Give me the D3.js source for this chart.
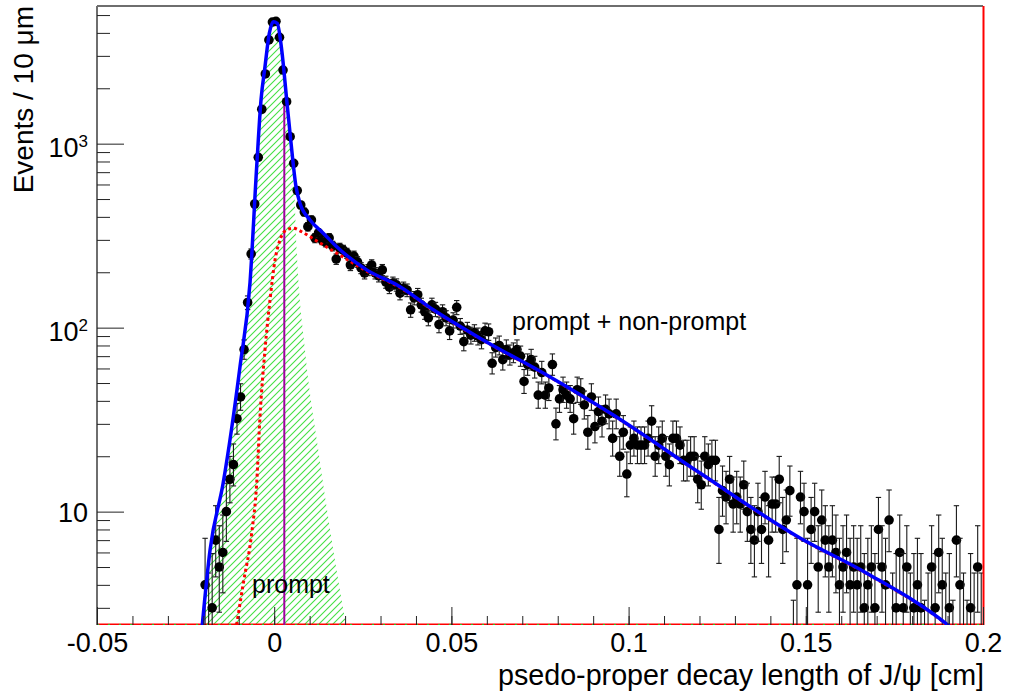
<!DOCTYPE html>
<html>
<head>
<meta charset="utf-8">
<script src="https://cdn.jsdelivr.net/npm/d3@7"></script>
<style>
  body { margin: 0; background: #fff; }
  text { font-family: "Liberation Sans", Arial, Helvetica, sans-serif; fill: #000; }
</style>
</head>
<body>
<div id="chart"></div>
<script>
// histogram, 10 um bins; first bin starts at -0.020 cm
var binWidth = 0.001;
var firstBinLow = -0.020;
var counts = [
  4, 2, 3, 7, 5, 6, 10, 15, 18, 32,
  42, 76, 137, 252, 470, 843, 1538, 2393, 3664, 4580,
  4620, 3785, 2512, 1690, 1091, 782, 556, 464, 425, 354,
  385, 307, 327, 300, 292, 307, 278, 236, 271, 264,
  254, 219, 245, 228, 211, 198, 206, 219, 198, 191,
  206, 177, 166, 175, 171, 154, 164, 160, 125, 145,
  151, 133, 122, 113, 133, 126, 104, 122, 113, 96,
  110, 129, 102, 84, 97, 91, 94, 90, 86, 96,
  95, 64, 78, 80, 67, 76, 71, 73, 76, 70,
  51, 63, 67, 61, 43, 57, 43, 47, 63, 30,
  41, 46, 43, 41, 32, 46, 45, 38, 27, 42,
  29, 35, 31, 36, 34, 25, 34, 20, 27, 16,
  23, 25, 23, 23, 23, 25, 31, 20, 23, 25,
  20, 18, 25, 25, 23, 19, 19, 20, 20, 15,
  14, 20, 18, 19, 19, 8, 13, 12, 15, 11,
  12, 11, 14, 10, 8, 7, 10, 8, 12, 7,
  11, 11, 15, 8, 9, 13, 1, 4, 12, 10,
  4, 8, 10, 5, 9, 7, 5, 7, 6, 4,
  5, 6, 4, 5, 4, 5, 3, 4, 5, 3,
  8, 5, 4, 9, 2, 3, 6, 3, 5, 2,
  3, 4, 3, 1, 2, 5, 3, 6, 4, 2,
  3, 1, 7, 4, 2, 1, 3, 2, 5, 2
];

// fit curves
var totalX = [-0.0205, -0.0181, -0.0144, -0.00965, -0.00683, -0.00494, -0.00372, -0.0026, -0.00138, -0.00025,
  0.00087, 0.00212, 0.00353, 0.00466, 0.00615, 0.00728, 0.0101, 0.01385, 0.01764, 0.0261,
  0.0355, 0.0449, 0.05807, 0.07689, 0.09568, 0.12015, 0.14837, 0.16718, 0.18976, 0.1915];
var totalY = [2.2, 6.19, 14.3, 61.4, 175, 750, 1728, 2620, 3981, 4603,
  4510, 3230, 1728, 1047, 584, 474, 385, 326, 275, 206,
  167, 125, 87.6, 55.3, 33.5, 16.2, 7.19, 4.63, 2.45, 2.3];

var nonPromptX = [-0.0106, -0.00872, -0.00635, -0.00494, -0.00401, -0.0026, -0.00119, 0.00023, 0.00164, 0.00353,
  0.00539, 0.00776, 0.01151, 0.01764, 0.0261, 0.0355, 0.0449, 0.05807, 0.07689, 0.09568,
  0.12015, 0.14837, 0.16718, 0.18976, 0.1915];
var nonPromptY = [2.42, 4.08, 7.63, 14.3, 32.8, 75.7, 141, 233, 300, 340,
  347, 332, 300, 254, 203, 165, 124, 87, 55, 33.3,
  16.1, 7.15, 4.6, 2.43, 2.28];

var promptX = [-0.0205, -0.0181, -0.0144, -0.00965, -0.00683, -0.00494, -0.00372, -0.0026, -0.00138, -0.00025,
  0.00087, 0.00212, 0.00353, 0.00466, 0.00559, 0.00635, 0.00869, 0.01244, 0.01668, 0.02026];
var promptY = [2.2, 6.0, 13.8, 58, 163, 720, 1690, 2570, 3850, 4380,
  4280, 3000, 1450, 850, 600, 264, 75.7, 21.6, 6.19, 2.42];

var markerX = 0.00285, markerTop = 1690;

var xTicks = [-0.05, 0, 0.05, 0.1, 0.15, 0.2];
var yMajor = [10, 100, 1000];
var yLabelExp = ["", "2", "3"];

var width = 1009, height = 696;
var margin = {top: 6, right: 26, bottom: 71, left: 97};
var plotW = width - margin.left - margin.right;
var plotH = height - margin.top - margin.bottom;

var x = d3.scaleLinear().domain([-0.05, 0.2]).range([0, plotW]);
var y = d3.scaleLog().domain([2.42, 5600]).range([plotH, 0]);

var yMinor = [];
[1, 10, 100, 1000].forEach(function(d) {
  for (var m = 2; m <= 9; m++) {
    var v = d * m;
    if (v >= 2.42 && v <= 5600) yMinor.push(v);
  }
});
var xMinor = d3.range(-0.05, 0.2001, 0.01);

// 68% central poisson interval, like RooFit draws for data
function poissonInterval(n) {
  if (n > 80) return [n - Math.sqrt(n), n + Math.sqrt(n)];
  var a = 0.158655;
  function cdf(k, mu) {
    var t = Math.exp(-mu), s = t;
    for (var i = 1; i <= k; i++) { t *= mu / i; s += t; }
    return s;
  }
  function solve(k, target) {
    var lo = 0, hi = n + 10 * Math.sqrt(n + 1) + 10;
    for (var i = 0; i < 60; i++) {
      var m = (lo + hi) / 2;
      if (cdf(k, m) > target) lo = m; else hi = m;
    }
    return (lo + hi) / 2;
  }
  var up = solve(n, a);
  var low = n === 0 ? 0 : solve(n - 1, 1 - a);
  return [low, up];
}

var svg = d3.select("#chart").append("svg")
  .attr("width", width)
  .attr("height", height)
  .style("background", "#fff");

var defs = svg.append("defs");
defs.append("clipPath").attr("id", "plotclip")
  .append("rect").attr("x", 0).attr("y", 0).attr("width", plotW).attr("height", plotH);

var hatch = defs.append("pattern")
  .attr("id", "hatch")
  .attr("patternUnits", "userSpaceOnUse")
  .attr("width", 7).attr("height", 7);
hatch.append("path")
  .attr("d", "M0,7 L7,0 M-1,1 L1,-1 M6,8 L8,6")
  .attr("stroke", "#44e044")
  .attr("stroke-width", 1.1);

var g = svg.append("g")
  .attr("transform", "translate(" + margin.left + "," + margin.top + ")");

var plot = g.append("g").attr("clip-path", "url(#plotclip)");

// prompt component (hatched)
var promptPts = promptX.map(function(d, i) { return [d, promptY[i]]; });
plot.append("path")
  .datum(promptPts)
  .attr("fill", "url(#hatch)")
  .attr("stroke", "none")
  .attr("d", d3.area()
    .x(function(d) { return x(d[0]); })
    .y0(plotH)
    .y1(function(d) { return y(d[1]); })
    .curve(d3.curveMonotoneX));

// bottom edge of the curves
plot.append("line")
  .attr("x1", 0).attr("x2", plotW).attr("y1", plotH - 0.5).attr("y2", plotH - 0.5)
  .attr("stroke", "#ff0000").attr("stroke-width", 2);
plot.append("line")
  .attr("x1", 0).attr("x2", plotW).attr("y1", plotH - 0.5).attr("y2", plotH - 0.5)
  .attr("stroke", "#22cc22").attr("stroke-width", 1).attr("stroke-dasharray", "2,9");

// vertical line in the prompt peak
plot.append("line")
  .attr("x1", x(markerX)).attr("x2", x(markerX))
  .attr("y1", y(markerTop)).attr("y2", plotH)
  .attr("stroke", "#a000a0").attr("stroke-width", 2);

// data points with errors
var bins = counts.map(function(n, i) {
  var iv = poissonInterval(n);
  return {x: firstBinLow + (i + 0.5) * binWidth, n: n, lo: iv[0], hi: iv[1]};
});
function yc(v) { return v > 0 ? y(v) : plotH + 50; }

var pts = plot.append("g").selectAll("g")
  .data(bins)
  .enter().append("g");
pts.append("line")
  .attr("x1", function(d) { return x(d.x); })
  .attr("x2", function(d) { return x(d.x); })
  .attr("y1", function(d) { return yc(d.lo); })
  .attr("y2", function(d) { return yc(d.hi); })
  .attr("stroke", "#1a1a1a").attr("stroke-width", 1.1);
pts.append("line")
  .attr("x1", function(d) { return x(d.x) - 2.7; })
  .attr("x2", function(d) { return x(d.x) + 2.7; })
  .attr("y1", function(d) { return yc(d.hi); })
  .attr("y2", function(d) { return yc(d.hi); })
  .attr("stroke", "#1a1a1a").attr("stroke-width", 1.1);
pts.append("line")
  .attr("x1", function(d) { return x(d.x) - 2.7; })
  .attr("x2", function(d) { return x(d.x) + 2.7; })
  .attr("y1", function(d) { return yc(d.lo); })
  .attr("y2", function(d) { return yc(d.lo); })
  .attr("stroke", "#1a1a1a").attr("stroke-width", 1.1);
pts.append("circle")
  .attr("cx", function(d) { return x(d.x); })
  .attr("cy", function(d) { return yc(d.n); })
  .attr("r", 4.8)
  .attr("fill", "#000");

var line = d3.line()
  .x(function(d) { return x(d[0]); })
  .y(function(d) { return y(d[1]); })
  .curve(d3.curveMonotoneX);

// non-prompt (red dotted)
plot.append("path")
  .datum(nonPromptX.map(function(d, i) { return [d, nonPromptY[i]]; }))
  .attr("fill", "none")
  .attr("stroke", "#ff0000")
  .attr("stroke-width", 3)
  .attr("stroke-dasharray", "3,3")
  .attr("d", line);

// total fit (blue)
plot.append("path")
  .datum(totalX.map(function(d, i) { return [d, totalY[i]]; }))
  .attr("fill", "none")
  .attr("stroke", "#0000ff")
  .attr("stroke-width", 3.5)
  .attr("d", line);

// frame
g.append("line").attr("x1", 0).attr("x2", plotW).attr("y1", 0).attr("y2", 0)
  .attr("stroke", "#6e6e6e").attr("stroke-width", 2);
g.append("line").attr("x1", 0).attr("x2", 0).attr("y1", 0).attr("y2", plotH)
  .attr("stroke", "#6e6e6e").attr("stroke-width", 2);
g.append("line").attr("x1", plotW + 0.5).attr("x2", plotW + 0.5).attr("y1", 0).attr("y2", plotH)
  .attr("stroke", "#ff0000").attr("stroke-width", 2);

// axes
function styleAxis(sel) {
  sel.select(".domain").remove();
  sel.selectAll(".tick line").attr("stroke", "#222").attr("stroke-width", 1);
  sel.selectAll(".tick text").style("font-size", "27px").attr("fill", "#000");
}

g.append("g")
  .attr("transform", "translate(0," + plotH + ")")
  .call(d3.axisBottom(x).tickValues(xMinor).tickSize(-9).tickSizeOuter(0).tickFormat(""))
  .call(styleAxis);
g.append("g")
  .attr("transform", "translate(0," + plotH + ")")
  .call(d3.axisBottom(x).tickValues(xTicks).tickSize(-18).tickSizeOuter(0).tickPadding(8)
    .tickFormat(function(d) { return d === 0 ? "0" : String(+d.toFixed(2)); }))
  .call(styleAxis)
  .attr("font-family", null);

g.append("g")
  .call(d3.axisLeft(y).tickValues(yMinor).tickSize(-13).tickSizeOuter(0).tickFormat(""))
  .call(styleAxis);
g.append("g")
  .call(d3.axisLeft(y).tickValues(yMajor).tickSize(-27).tickSizeOuter(0).tickFormat(""))
  .call(styleAxis);

yMajor.forEach(function(v, i) {
  var t = g.append("text")
    .attr("x", -9)
    .attr("y", y(v) + (yLabelExp[i] ? 13 : 10))
    .attr("text-anchor", "end")
    .style("font-size", "27px")
    .text("10");
  if (yLabelExp[i]) {
    t.append("tspan").attr("dy", -10).style("font-size", "17px").text(yLabelExp[i]);
  }
});

// titles
svg.append("text")
  .attr("x", 984).attr("y", 685)
  .attr("text-anchor", "end")
  .style("font-size", "28.7px")
  .text("psedo-proper decay length of J/\u03C8 [cm]");

svg.append("text")
  .attr("transform", "translate(33,6) rotate(-90)")
  .attr("text-anchor", "end")
  .style("font-size", "28px")
  .text("Events / 10 \u03BCm");

svg.append("text")
  .attr("x", 512).attr("y", 330)
  .style("font-size", "25px")
  .text("prompt + non-prompt");

svg.append("text")
  .attr("x", 252).attr("y", 593)
  .style("font-size", "25px")
  .text("prompt");
</script>
</body>
</html>
